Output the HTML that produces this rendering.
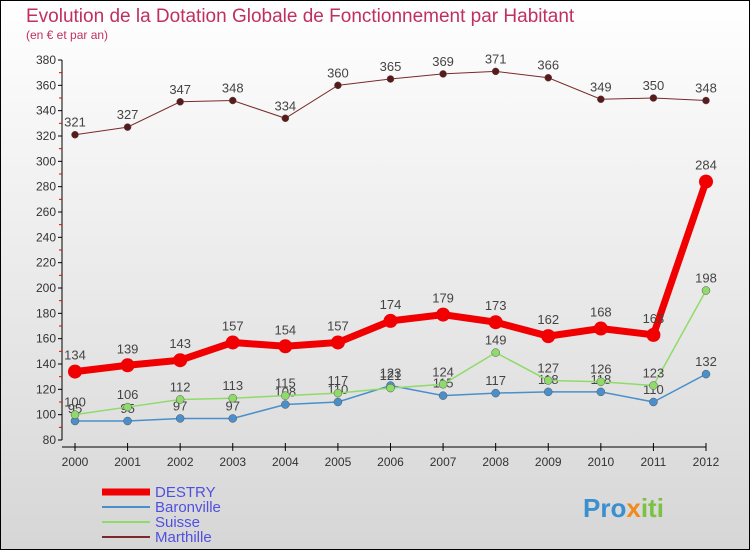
<!DOCTYPE html>
<html><head><meta charset="utf-8"><style>
body{margin:0;width:750px;height:550px;overflow:hidden;font-family:"Liberation Sans",sans-serif}
</style></head><body>
<svg id="c" width="750" height="550" xmlns="http://www.w3.org/2000/svg">
<defs><linearGradient id="bg" x1="0" y1="0" x2="0" y2="1"><stop offset="0" stop-color="#ffffff"/><stop offset="1" stop-color="#d6d6d6"/></linearGradient></defs>
<rect x="0.5" y="0.5" width="749" height="549" fill="url(#bg)" stroke="#000"/>
<text x="26" y="22" font-size="19" fill="#c0305f">Evolution de la Dotation Globale de Fonctionnement par Habitant</text>
<text x="26" y="39" font-size="12" fill="#c0305f">(en € et par an)</text>
<g id="axes"></g><g id="series"></g><g id="legend"></g>
<text x="583" y="517" font-size="26" font-weight="bold" fill="#3a8fd0">Pro<tspan fill="#f08a1c">x</tspan><tspan fill="#7cc242">iti</tspan></text>
</svg>
<script>
const years=[2000,2001,2002,2003,2004,2005,2006,2007,2008,2009,2010,2011,2012];
const destry=[134,139,143,157,154,157,174,179,173,162,168,163,284];
const baronville=[95,95,97,97,108,110,123,115,117,118,118,110,132];
const suisse=[100,106,112,113,115,117,121,124,149,127,126,123,198];
const marthille=[321,327,347,348,334,360,365,369,371,366,349,350,348];
const yTicks=[80,100,120,140,160,180,200,220,240,260,280,300,320,340,360,380];
const NS="http://www.w3.org/2000/svg";
const x=i=>75+i*(706-75)/12;
const y=v=>440-(v-80)*380/300;
function mk(t,a,p){const e=document.createElementNS(NS,t);for(const k in a)e.setAttribute(k,a[k]);p.appendChild(e);return e;}
const ax=document.getElementById('axes');
const yl=mk('line',{x1:62,y1:y(380),x2:62,y2:y(80),stroke:'#000'},ax);


const xl=mk('line',{x1:62,y1:447,x2:706,y2:447,stroke:'#000'},ax);


yTicks.forEach((v,i)=>{
  mk('line',{x1:58,y1:y(v),x2:62,y2:y(v),stroke:'#000'},ax);
  if(i<yTicks.length-1)mk('line',{x1:59,y1:y(v+10),x2:62,y2:y(v+10),stroke:'#e00'},ax);
  const t=mk('text',{x:56,y:y(v)+4,'font-size':12,'text-anchor':'end',fill:'#333'},ax);t.textContent=v;
  
  
});
years.forEach((yr,i)=>{
  mk('line',{x1:x(i),y1:443,x2:x(i),y2:451,stroke:'#000'},ax);
  const t=mk('text',{x:x(i),y:466,'font-size':12,'text-anchor':'middle',fill:'#333'},ax);t.textContent=yr;
  
  
});
const S=[
 {n:'marthille',d:marthille,c:'#7a2a2a',w:1,r:3.5,label:'Marthille'},
 {n:'baronville',d:baronville,c:'#4a8fcc',w:1.5,r:4,label:'Baronville'},
 {n:'suisse',d:suisse,c:'#8fdb6a',w:1.5,r:4,label:'Suisse'},
 {n:'destry',d:destry,c:'#f00000',w:7,r:7,label:'DESTRY'}];
const sg=document.getElementById('series');
S.forEach(s=>{
  const g=mk('g',{},sg);
  
  
  const p=mk('polyline',{points:s.d.map((v,i)=>x(i)+','+y(v)).join(' '),fill:'none',stroke:s.c,'stroke-width':s.w},g);
  
  
  s.d.forEach((v,i)=>{
    const c=mk('circle',{cx:x(i),cy:y(v),r:s.r,fill:s.n=='marthille'?'#5a1a1a':s.c,stroke:s.n=='destry'?'none':'#555','stroke-width':0.5},g);
    
    
    const t=mk('text',{x:x(i),y:y(v)-(s.n=='destry'?12:8),'font-size':13,'text-anchor':'middle',fill:'#444'},g);
    t.textContent=v;
    
    
  });
});
const lg=document.getElementById('legend');
[S[3],S[1],S[2],S[0]].forEach((s,i)=>{
  const g=mk('g',{},lg);
  
  
  const yy=492+i*15;
  mk('line',{x1:102,y1:yy,x2:150,y2:yy,stroke:s.c,'stroke-width':s.n=='destry'?7:2},g);
  const t=mk('text',{x:155,y:yy+5,'font-size':15,fill:'#5050e0'},g);t.textContent=s.label;
});
</script>
</body></html>
